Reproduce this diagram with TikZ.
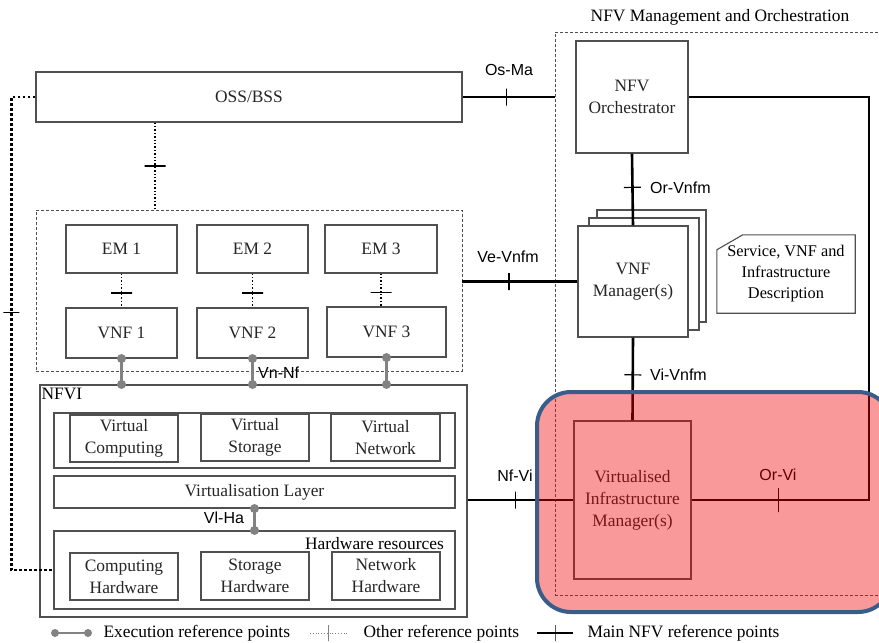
\documentclass[tikz,border=0pt]{standalone}
\usepackage{fontspec}
\setmainfont{Liberation Serif}
\newfontfamily\rpfont{Liberation Sans}

\definecolor{boxgray}{RGB}{80,80,80}
\definecolor{execgray}{RGB}{130,130,130}
\definecolor{hlred}{RGB}{240,0,0}
\definecolor{hlblue}{RGB}{56,93,138}

\tikzset{
  box/.style={draw=boxgray, line width=1.1pt, fill=white, align=center, inner sep=0pt, text=black!85},
  groupbox/.style={draw=boxgray, dash pattern=on 3pt off 2pt, line width=0.9pt, inner sep=0pt},
  mainref/.style={line width=2.6pt},
  otherref/.style={dotted, line width=1.4pt},
  osslink/.style={line width=2.5pt, dash pattern=on 2.5pt off 2.5pt},
  execref/.style={draw=execgray, line width=2.6pt},
  reflabel/.style={font=\rpfont\fontsize{16}{18}\selectfont, inner sep=1pt},
  mtick/.style={sloped, draw, solid, line width=1.2pt, minimum width=0pt, minimum height=17pt, inner sep=0pt},
  otick/.style={mtick, line width=1.6pt, minimum height=21pt},
  epoint/.style={circle, fill=execgray, inner sep=0pt, minimum size=9pt},
}

\begin{document}
\begin{tikzpicture}[x=1pt, y=-1pt, font=\fontsize{17.4}{22}\selectfont]
  \useasboundingbox (0,0) rectangle (879,643);

  % management and orchestration
  \node[groupbox, minimum width=330pt, minimum height=563pt] (mano) at (720,313.5) {};
  \node (manotitle) at (720,17) {NFV Management and Orchestration};
  \node[box, minimum width=112pt, minimum height=112pt] (orch) at (632,97) {NFV\\Orchestrator};
  \node[box, minimum width=109pt, minimum height=112pt] (vnfmback) at (651.5,266) {};
  \node[box, minimum width=110pt, minimum height=112pt] (vnfmmid) at (644,274) {};
  \node[box, minimum width=110pt, minimum height=111pt] (vnfm) at (633,281.5) {VNF\\Manager(s)};
  \node[box, minimum width=117pt, minimum height=158pt] (vim) at (632.5,500) {Virtualised\\Infrastructure\\Manager(s)};
  \node[align=center, minimum width=138pt, minimum height=78pt, inner sep=0pt,
        font=\fontsize{16.3}{21}\selectfont] (descr) at (786,274) {Service, VNF and\\Infrastructure\\Description};
  \draw[draw=boxgray, line width=1.1pt] ([yshift=-15pt]descr.north west) -- ([xshift=26pt]descr.north west)
    -- (descr.north east) -- (descr.south east) -- (descr.south west) -- cycle;

  % oss and vnfs
  \node[box, minimum width=426pt, minimum height=50pt] (oss) at (249,97) {OSS/BSS};
  \node[groupbox, minimum width=426pt, minimum height=161pt] (vnfgrp) at (249,290.5) {};
  \node[box, minimum width=111pt, minimum height=48pt] (em1) at (121.5,249) {EM 1};
  \node[box, minimum width=111pt, minimum height=48pt] (em2) at (252.5,249) {EM 2};
  \node[box, minimum width=112pt, minimum height=48pt] (em3) at (381,249) {EM 3};
  \node[box, minimum width=111pt, minimum height=50pt] (vnf1) at (121.5,333) {VNF 1};
  \node[box, minimum width=111pt, minimum height=50pt] (vnf2) at (252.5,333) {VNF 2};
  \node[box, minimum width=119pt, minimum height=50pt] (vnf3) at (386.5,332) {VNF 3};

  % nfvi
  \node[box, minimum width=427pt, minimum height=232pt] (nfvi) at (253.5,501) {};
  \node[anchor=base west, inner sep=0pt] (nfvilbl) at ([xshift=2pt,yshift=-15pt]nfvi.north west) {NFVI};
  \node[box, minimum width=401pt, minimum height=55pt] (virtgrp) at (254.5,440.5) {};
  \node[box, minimum width=108pt, minimum height=47pt] (vcomp) at (124,438.5) {Virtual\\Computing};
  \node[box, minimum width=108pt, minimum height=47pt] (vstor) at (255,437.5) {Virtual\\Storage};
  \node[box, minimum width=109pt, minimum height=47pt] (vnet) at (385.5,437.5) {Virtual\\Network};
  \node[box, minimum width=401pt, minimum height=32pt] (virtlayer) at (254.5,492) {Virtualisation Layer};
  \node[box, minimum width=401pt, minimum height=78pt] (hwres) at (254.5,570) {};
  \node[anchor=east, inner sep=0pt] (hwreslbl) at (444,544) {Hardware resources};
  \node[box, minimum width=108pt, minimum height=47pt] (chw) at (124,576.5) {Computing\\Hardware};
  \node[box, minimum width=108pt, minimum height=48pt] (shw) at (255,576) {Storage\\Hardware};
  \node[box, minimum width=108pt, minimum height=48pt] (nhw) at (386,576) {Network\\Hardware};

  % other reference points
  \draw[osslink] (oss.west) -- ++(-24,0) |- node[pos=0.228, otick, line width=1.2pt, minimum height=16pt] {} (hwres.west);
  \draw[otherref] ([xshift=-94pt]oss.south) -- node[pos=0.5, otick] {} ([xshift=-94pt]oss.south |- vnfgrp.north);
  \foreach \i in {1,2,3}
    \draw[otherref] (em\i.south) -- node[pos=0.57, otick] {} (em\i.south |- vnf\i.north);

  % execution reference points
  \foreach \i in {1,2,3}
    \draw[execref] (vnf\i.south) node[epoint] {} -- (vnf\i.south |- nfvi.north) node[epoint] {};
  \draw[execref] (virtlayer.south) node[epoint] {} -- (virtlayer.south |- hwres.north) node[epoint] {};
  \node[reflabel, anchor=west] (vnnflbl) at (257,373) {Vn-Nf};
  \node[reflabel] (vlhalbl) at (224,518) {Vl-Ha};

  % main reference points
  \draw[mainref] (oss.east) -- node[pos=0.48, mtick] {} (oss.east -| mano.west);
  \draw[mainref] (vnfm.west) -- node[pos=0.595, mtick] {} (vnfm.west -| vnfgrp.east);
  \draw[mainref] (vim.west) -- node[pos=0.55, mtick] {} (vim.west -| nfvi.east);
  \draw[mainref] (orch.south) -- node[pos=0.47, mtick] {} (vnfm.north);
  \draw[mainref] (vnfm.south) -- node[pos=0.45, mtick] {} (vim.north);
  \coordinate (orviturn) at (869,97);
  \draw[mainref] (orch.east) -- (orviturn) |- node[pos=0.756, mtick, minimum height=24pt] {} (vim.east);
  \node[reflabel] (osmalbl) at (509,70) {Os-Ma};
  \node[reflabel] (vevnfmlbl) at (508,257) {Ve-Vnfm};
  \node[reflabel] (nfvilbl2) at (515,476) {Nf-Vi};
  \node[reflabel] (orvilbl) at (778,475) {Or-Vi};
  \node[reflabel, anchor=west] (orvnfmlbl) at (649,188) {Or-Vnfm};
  \node[reflabel, anchor=west] (vivnfmlbl) at (649,375) {Vi-Vnfm};

  % legend
  \coordinate (lgexA) at (55,633);
  \coordinate (lgexB) at (88,633);
  \draw[execref, line width=1.5pt] (lgexA) node[epoint, minimum size=8pt] {} -- (lgexB) node[epoint, minimum size=8pt] {};
  \node[anchor=west] (lgextxt) at (100,633) {Execution reference points};
  \coordinate (lgotA) at (310,633);
  \coordinate (lgotB) at (347,633);
  \draw[dotted, line width=0.8pt, draw=gray] (lgotA) -- node[otick, draw=gray, line width=0.8pt, minimum height=16pt] {} (lgotB);
  \node[anchor=west] (lgottxt) at (360,633) {Other reference points};
  \coordinate (lgmnA) at (537,633);
  \coordinate (lgmnB) at (573,633);
  \draw[mainref] (lgmnA) -- node[mtick, line width=1pt, minimum height=16pt] {} (lgmnB);
  \node[anchor=west] (lgmntxt) at (584,633) {Main NFV reference points};

  % highlight of the vim
  \draw[line width=4pt, draw=hlblue, fill=hlred, fill opacity=0.4, rounded corners=34pt] (537,392) rectangle (892,612);
\end{tikzpicture}
\end{document}
